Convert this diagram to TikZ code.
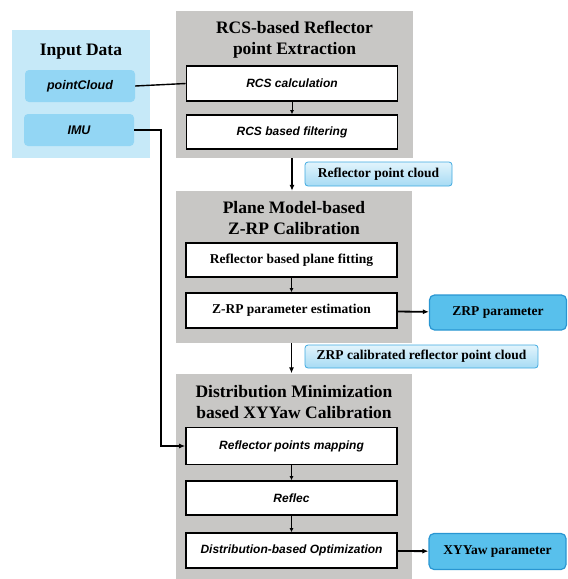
\documentclass[tikz,border=0pt]{standalone}
\usepackage{fontspec}
\setmainfont{Liberation Serif}
\setsansfont{Liberation Sans}
\usetikzlibrary{arrows.meta}
\definecolor{panelgray}{HTML}{C8C7C5}
\definecolor{inpanel}{HTML}{C6E9F8}
\definecolor{inblue}{HTML}{93D6F4}
\definecolor{tagtop}{HTML}{E2F4FC}
\definecolor{tagbot}{HTML}{A6DBF4}
\definecolor{tagline}{HTML}{3FA9E0}
\definecolor{outblue}{HTML}{58C0EC}
\definecolor{outline}{HTML}{2996D2}
\tikzset{
  panel/.style={fill=panelgray, inner sep=0pt},
  titletext/.style={font=\fontsize{17.5}{21}\selectfont\bfseries, align=center},
  stepbox/.style={draw, line width=1.6pt, fill=white, minimum width=211pt, inner sep=0pt},
  itstep/.style={stepbox, font=\sffamily\bfseries\itshape\fontsize{12}{14}\selectfont},
  rmstep/.style={stepbox, font=\bfseries\fontsize{13.5}{15}\selectfont},
  inbox/.style={fill=inblue, rounded corners=4pt, minimum width=110pt, minimum height=32pt,
    font=\sffamily\bfseries\itshape\fontsize{12.5}{14}\selectfont},
  tagbox/.style={draw=tagline, line width=0.8pt, rounded corners=3pt, top color=tagtop,
    bottom color=tagbot, inner sep=0pt, font=\bfseries\fontsize{13.5}{15}\selectfont},
  outbox/.style={draw=outline, line width=1.2pt, fill=outblue, rounded corners=5pt,
    minimum width=137pt, inner sep=0pt, font=\bfseries\fontsize{13.5}{15}\selectfont},
  flow/.style={-{Latex[length=6pt,width=5pt]}, line width=1.8pt},
  thinflow/.style={-{Latex[length=4pt,width=4pt]}, line width=0.8pt}
}
\begin{document}
\begin{tikzpicture}[x=1pt,y=-1pt]
\useasboundingbox (0,0) rectangle (568,579);
% input data
\node[fill=inpanel, minimum width=138pt, minimum height=128pt, inner sep=0pt] (input) at (81,94) {};
\node[titletext] (intitle) at (81,52) {Input Data};
\node[inbox] (cloud) at (80,86) {pointCloud};
\node[inbox] (imu) at (79,130) {IMU};
% panels
\node[panel, minimum width=237pt, minimum height=147pt] (p1) at (294.5,84.5) {};
\node[titletext] (t1) at (294.5,40) {RCS-based Reflector\\point Extraction};
\node[panel, minimum width=236pt, minimum height=152pt] (p2) at (294,267) {};
\node[titletext] (t2) at (294,218) {Plane Model-based\\Z-RP Calibration};
\node[panel, minimum width=236pt, minimum height=205pt] (p3) at (294,476) {};
\node[titletext] (t3) at (294,402) {Distribution Minimization\\based XYYaw Calibration};
% steps
\node[itstep, minimum height=35pt] (rcscalc) at (292,83.5) {RCS calculation};
\node[itstep, minimum height=34pt] (rcsfilt) at (292,132) {RCS based filtering};
\node[rmstep, minimum height=34pt] (fit) at (291.5,260) {Reflector based plane fitting};
\node[rmstep, minimum height=35pt] (zrpest) at (291.5,310.5) {Z-RP parameter estimation};
\node[itstep, minimum height=37pt] (mapping) at (291.5,446) {Reflector points mapping};
\node[itstep, minimum height=34pt] (reflec) at (291.5,498) {Reflec};
\node[itstep, minimum height=35pt] (optim) at (291.5,550.5) {Distribution-based Optimization};
% outputs
\node[outbox, minimum height=35pt] (zrppar) at (498,312.5) {ZRP parameter};
\node[outbox, minimum height=36pt] (xyyaw) at (497.5,551.5) {XYYaw parameter};
\node[tagbox, minimum width=147pt, minimum height=24pt] (tag1) at (378.5,174) {Reflector point cloud};
\node[tagbox, minimum width=233pt, minimum height=23pt] (tag2) at (421.5,356.5) {ZRP calibrated reflector point cloud};
% connectors
\draw[line width=1.4pt] (cloud.east) -- (rcscalc.west);
\draw[flow] (imu.east) -- ++(27,0) |- (mapping.west);
\draw[thinflow] (rcscalc) -- (rcsfilt);
\draw[thinflow] (fit) -- (zrpest);
\draw[thinflow] (mapping) -- (reflec);
\draw[thinflow] (reflec) -- (optim);
\draw[flow] (p1.south -| rcsfilt.south) -- (p2.north -| rcsfilt.south);
\draw[flow] (p2.south -| zrpest.south) -- (p3.north -| zrpest.south);
\draw[flow] (zrpest) -- (zrppar);
\draw[flow] (optim) -- (xyyaw);
\end{tikzpicture}
\end{document}
